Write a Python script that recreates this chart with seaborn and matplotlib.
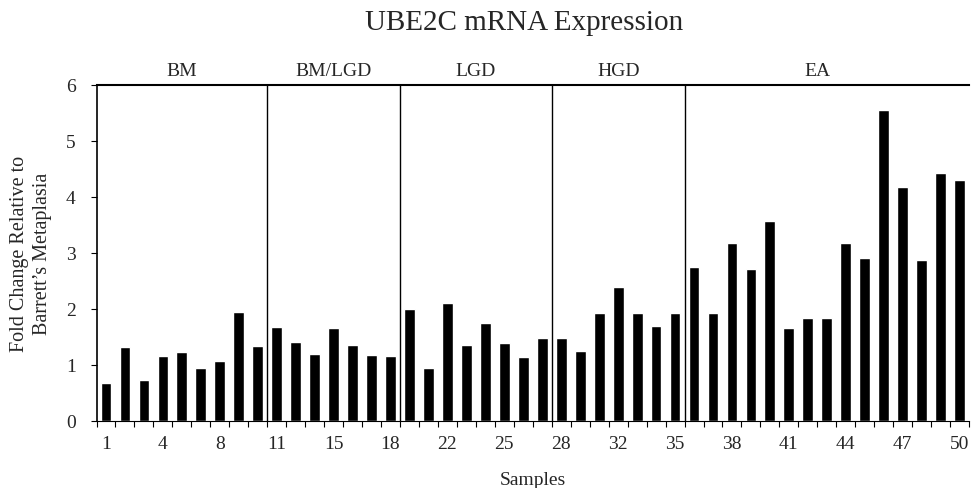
import numpy as np
import pandas as pd
import matplotlib
matplotlib.use("Agg")
import matplotlib.pyplot as plt
import seaborn as sns

# ------------------------------------------
# Data
# ------------------------------------------
groups = ["BM", "BM/LGD", "LGD", "HGD", "EA"]
group_sizes = [9, 7, 8, 7, 15]

fold_change = [
    # BM
    0.67, 1.31, 0.73, 1.16, 1.23, 0.95, 1.06, 1.95, 1.33,
    # BM/LGD
    1.68, 1.40, 1.20, 1.65, 1.36, 1.18, 1.16,
    # LGD
    1.99, 0.94, 2.10, 1.36, 1.74, 1.39, 1.13, 1.47,
    # HGD
    1.47, 1.25, 1.92, 2.38, 1.92, 1.70, 1.93,
    # EA
    2.75, 1.93, 3.18, 2.71, 3.56, 1.65, 1.83, 1.83, 3.18, 2.90,
    5.55, 4.17, 2.87, 4.42, 4.30,
]

# only every third sample id is printed under the axis
shown_labels = ["1", "4", "8", "11", "15", "18", "22", "25", "28",
                "32", "35", "38", "41", "44", "47", "50"]

df = pd.DataFrame({"bar": np.arange(len(fold_change)), "fold": fold_change})

# ------------------------------------------
# Plot
# ------------------------------------------
sns.set_theme(style="white")
plt.rcParams["font.family"] = ["Liberation Serif", "DejaVu Serif"]

fig = plt.figure(figsize=(9.71, 4.89), dpi=100)
ax = fig.add_axes([0.0994, 0.1376, 0.8986, 0.6871])

sns.barplot(data=df, x="bar", y="fold", color="black", saturation=1,
            width=0.57, ax=ax)

n = len(fold_change)
ax.set_xlim(-0.5, n - 0.5)
ax.set_ylim(0, 6)

# x ticks: labels every third bar, tick marks on category boundaries
ax.set_xticks(np.arange(0, n, 3))
ax.set_xticklabels(shown_labels, fontsize=14)
ax.set_xticks(np.arange(-0.5, n, 1), minor=True)
ax.tick_params(axis="x", which="major", length=0, pad=10)
ax.tick_params(axis="x", which="minor", length=4, width=0.8,
               direction="out", bottom=True, color="black")

ax.set_yticks(range(0, 7))
ax.set_yticklabels([str(v) for v in range(0, 7)], fontsize=14)
ax.tick_params(axis="y", length=4, width=0.8, direction="out",
               left=True, color="black", pad=11)

for side in ["left", "bottom", "top"]:
    ax.spines[side].set_visible(True)
    ax.spines[side].set_color("black")
ax.spines["left"].set_linewidth(1.2)
ax.spines["bottom"].set_linewidth(0.8)
ax.spines["top"].set_linewidth(1.5)
ax.spines["right"].set_visible(False)

# group dividers and group names above the frame
edges = np.cumsum([0] + group_sizes) - 0.5
for e in edges[1:-1]:
    ax.axvline(e, ymin=0, ymax=1, color="black", lw=1.0)
for name, lo, hi in zip(groups, edges[:-1], edges[1:]):
    xc = (lo + hi) / 2 if name != "EA" else (lo + hi) / 2 - 0.5
    ax.text(xc, 6.1, name, ha="center", va="bottom", fontsize=14)

ax.set_xlabel("Samples", fontsize=14, labelpad=14)
ax.set_ylabel("Fold Change Relative to\nBarrett\u2019s Metaplasia",
              fontsize=14.5, labelpad=10, linespacing=1.25)

fig.suptitle("UBE2C mRNA Expression", x=0.54, y=0.98, fontsize=21,
             va="top")

fig.savefig("out.png", dpi=100)
